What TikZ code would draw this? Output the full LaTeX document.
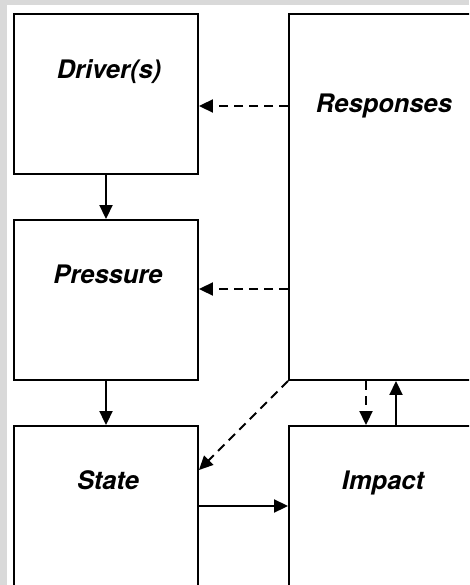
\documentclass[tikz,border=0pt]{standalone}
\usepackage{fontspec}
\setmainfont{TeX Gyre Heros}
\usetikzlibrary{arrows.meta}
\definecolor{framegray}{HTML}{D9D9D9}
\begin{document}
\begin{tikzpicture}[x=1pt,y=-1pt,
  box/.style={draw=black, line width=1.9pt, fill=white, rectangle, inner sep=0pt},
  lbl/.style={font=\fontsize{25.5}{30}\selectfont\bfseries\itshape, anchor=base, inner sep=0pt},
  solidarr/.style={line width=1.9pt, -{Triangle[length=14pt,width=13pt]}},
  dasharr/.style={line width=1.9pt, dash pattern=on 9pt off 6pt, -{Triangle[length=14pt,width=13pt]}}
]
\useasboundingbox (0,0) rectangle (469,585);
\fill[framegray] (0,0) rectangle (469,585);
\clip (0,0) rectangle (469,585);
\fill[white] (7,5) rectangle (480,600);
% boxes
\node[box, minimum width=184pt, minimum height=160pt] (drv) at (106,94) {};
\node[box, minimum width=184pt, minimum height=160pt] (prs) at (106,300) {};
\node[box, minimum width=184pt, minimum height=180pt] (sta) at (106,516) {};
\node[box, minimum width=200pt, minimum height=366pt] (rsp) at (389,197) {};
\node[box, minimum width=200pt, minimum height=180pt] (imp) at (389,516) {};
% labels
\node[lbl] (tdrv) at (109,79) {Driver(s)};
\node[lbl] (tprs) at (108,283) {Pressure};
\node[lbl] (tsta) at (108,489) {State};
\node[lbl] (trsp) at (384,113) {Responses};
\node[lbl] (timp) at (383,489) {Impact};
% connectors
\draw[solidarr] (drv.south) -- (prs.north);
\draw[solidarr] (prs.south) -- (sta.north);
\draw[dasharr] (rsp.west |- 0,106) -- (drv.east |- 0,106);
\draw[dasharr] (rsp.west |- 0,289) -- (prs.east |- 0,289);
\draw[dasharr] (rsp.south west) -- (sta.east |- 0,470);
\draw[dasharr] (rsp.south -| 366,0) -- (imp.north -| 366,0);
\draw[solidarr] (imp.north -| 396,0) -- (rsp.south -| 396,0);
\draw[solidarr] (sta.east |- 0,506) -- (imp.west |- 0,506);
\end{tikzpicture}
\end{document}
